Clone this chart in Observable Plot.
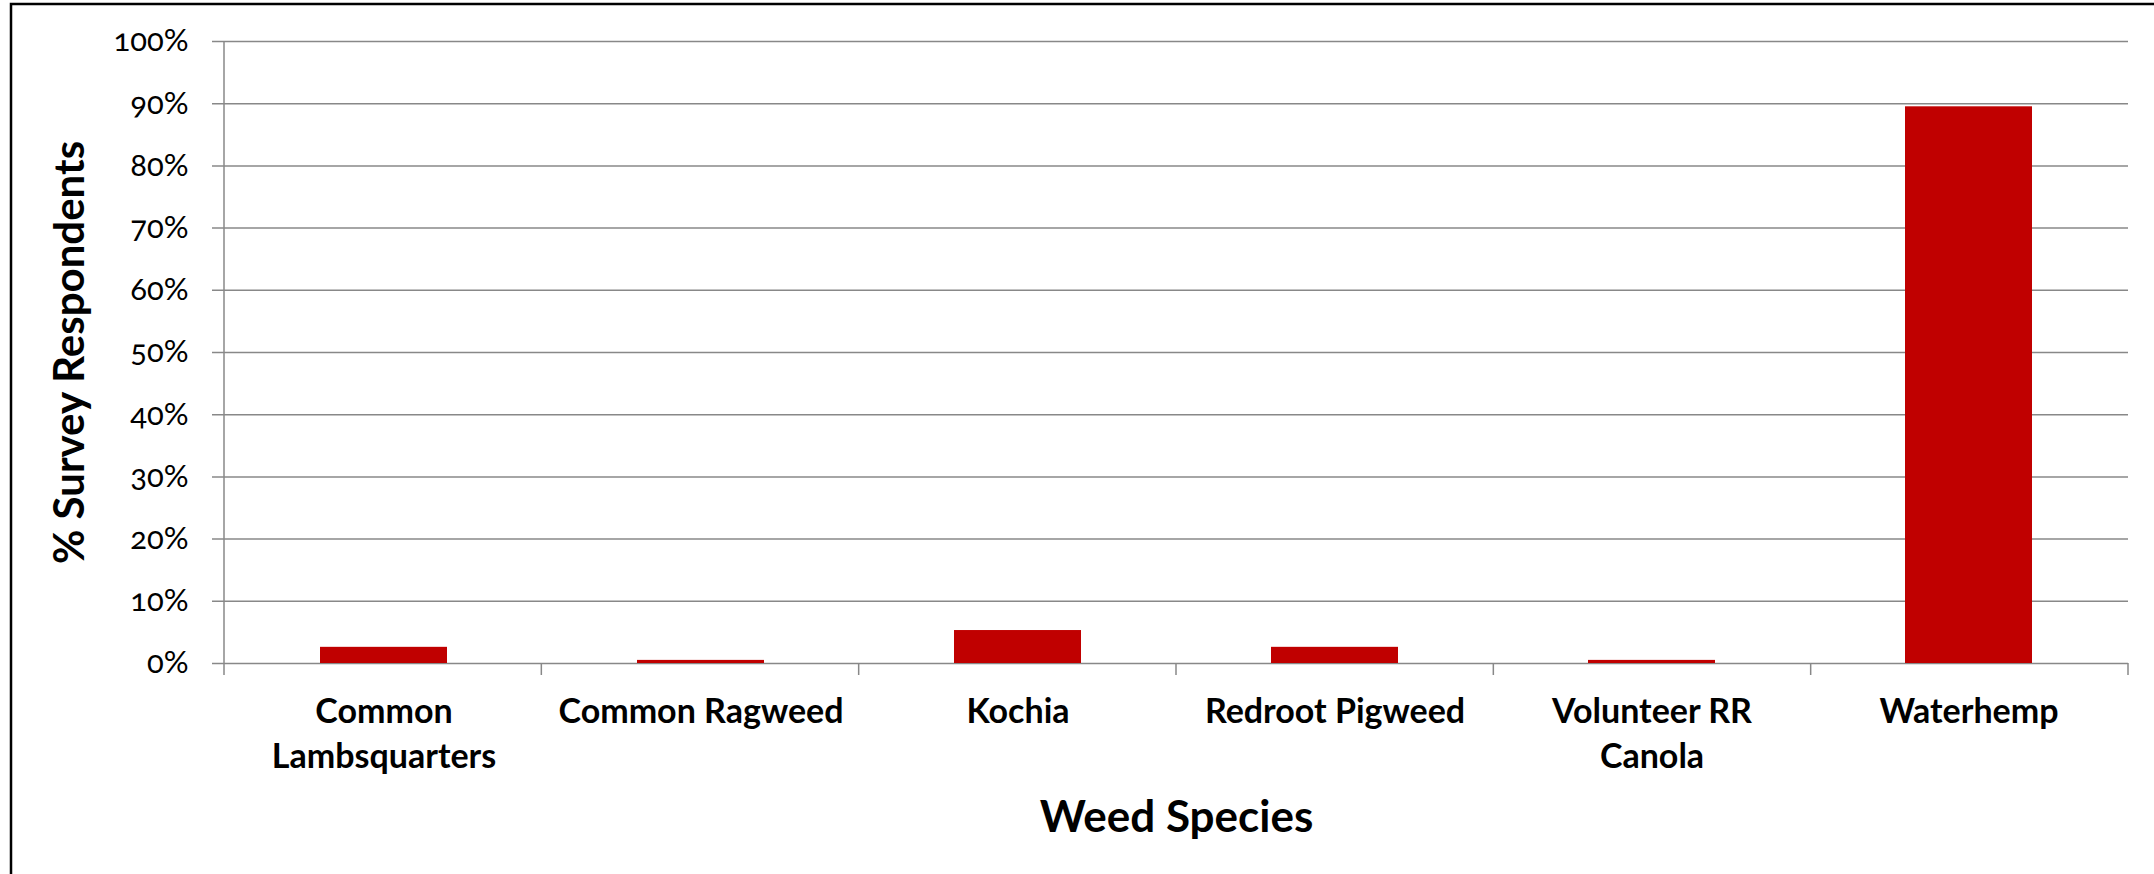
<!DOCTYPE html>
<html>
<head>
<meta charset="utf-8">
<script src="https://cdn.jsdelivr.net/npm/d3@7"></script>
<script src="https://cdn.jsdelivr.net/npm/@observablehq/plot@0.6"></script>
<style>
  html, body { margin: 0; padding: 0; background: #ffffff; }
  #chart svg { display: block; }
  #chart g[aria-label="y-axis tick label"] text { font-variant-numeric: oldstyle-nums; font-feature-settings: "onum" 1; }
</style>
</head>
<body>
<div id="chart"></div>
<script>
const species = ["Common Lambsquarters", "Common Ragweed", "Kochia", "Redroot Pigweed", "Volunteer RR Canola", "Waterhemp"];
const speciesLabels = ["Common\nLambsquarters", "Common Ragweed", "Kochia", "Redroot Pigweed", "Volunteer RR\nCanola", "Waterhemp"];
const respondents = [2.6, 0.5, 5.3, 2.6, 0.5, 89.5];
const yTicks = [0, 10, 20, 30, 40, 50, 60, 70, 80, 90, 100];
const yTitle = "% Survey Respondents";
const xTitle = "Weed Species";

const data = species.map((s, i) => ({species: s, label: speciesLabels[i], pct: respondents[i]}));

const gridColor = "#888888";

const decorations = (index, scales, values, dimensions) => {
  const {width, height, marginLeft, marginRight, marginTop, marginBottom} = dimensions;
  const g = d3.create("svg:g");
  const n = species.length;
  const step = (width - marginLeft - marginRight) / n;
  const y0 = height - marginBottom;
  // outer chart border (top and left visible)
  g.append("rect").attr("x", 11).attr("y", 4).attr("width", width + 20).attr("height", height + 20)
    .attr("fill", "none").attr("stroke", "#000").attr("stroke-width", 2.5);
  // y axis line
  g.append("line").attr("x1", marginLeft).attr("x2", marginLeft)
    .attr("y1", marginTop).attr("y2", y0 + 12)
    .attr("stroke", gridColor).attr("stroke-width", 1.5);
  // category boundary ticks
  for (let i = 1; i <= n; i++) {
    const x = marginLeft + i * step;
    g.append("line").attr("x1", x).attr("x2", x).attr("y1", y0).attr("y2", y0 + 12)
      .attr("stroke", gridColor).attr("stroke-width", 1.5);
  }
  return g.node();
};

const chart = Plot.plot({
  width: 2154,
  height: 874,
  marginLeft: 224,
  marginRight: 26,
  marginTop: 41,
  marginBottom: 211,
  style: {fontFamily: "Lato, 'Open Sans', sans-serif", color: "#000", background: "#fff"},
  x: {domain: species, paddingInner: 0.6, paddingOuter: 0.3, axis: null},
  y: {domain: [0, 100], axis: null},
  marks: [
    Plot.ruleY(yTicks, {y: d => d, stroke: gridColor, strokeWidth: 1.5, insetLeft: -12}),
    Plot.barY(data, {x: "species", y: "pct", fill: "#C00000"}),
    decorations,
    Plot.axisY({
      ticks: yTicks, tickSize: 0, tickPadding: 36, fontSize: 31, label: null,
      tickFormat: d => d + "%", fill: "#000"
    }),
    Plot.text(data, {
      x: "species", y: () => 0, text: "label", lineAnchor: "top", dy: 28,
      fontSize: 34, fontWeight: "bold", lineHeight: 1.32, fill: "#000"
    }),
    Plot.text([yTitle], {
      frameAnchor: "left", textAnchor: "middle", rotate: -90, dx: -154, text: d => d,
      fontSize: 42, fontWeight: "bold", fill: "#000"
    }),
    Plot.text([xTitle], {
      frameAnchor: "bottom", dy: 168, text: d => d,
      fontSize: 44, fontWeight: "bold", fill: "#000"
    })
  ]
});

document.getElementById("chart").appendChild(chart);
</script>
</body>
</html>
